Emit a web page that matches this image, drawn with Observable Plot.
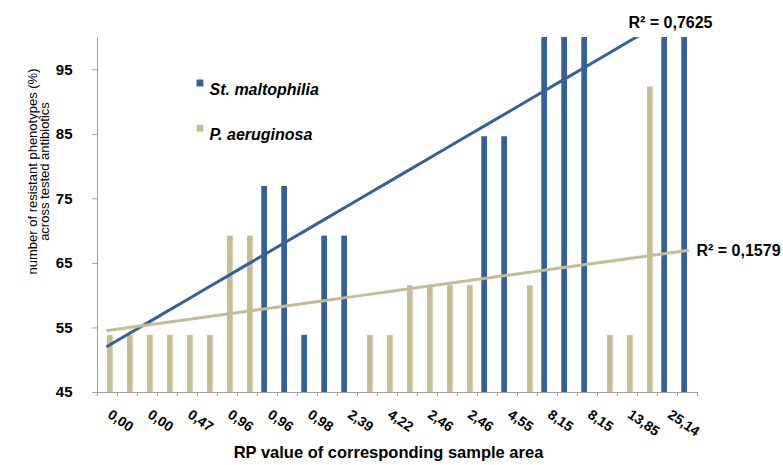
<!DOCTYPE html>
<html>
<head>
<meta charset="utf-8">
<script src="https://cdn.jsdelivr.net/npm/d3@7"></script>
<script src="https://cdn.jsdelivr.net/npm/@observablehq/plot@0.6"></script>
<style>
  body { margin: 0; background: #fff; }
</style>
</head>
<body>
<div id="chart"></div>
<script>
// ---- data (fractions of 13 tested antibiotics) ----
const seriesNames = ["St. maltophilia", "P. aeruginosa"];
const seriesColors = ["#376093", "#C4BD97"];
const stMaltophilia = [null, null, null, null, null, null, null, null,
  76.92, 76.92, 53.85, 69.23, 69.23,
  null, null, null, null, null, null,
  84.62, 84.62, null, 100, 100, 100, null, null, null, 100, 100];
const pAeruginosa = [53.85, 53.85, 53.85, 53.85, 53.85, 53.85, 69.23, 69.23,
  null, null, null, null, null,
  53.85, 53.85, 61.54, 61.54, 61.54, 61.54,
  null, null, 61.54, null, null, null, 53.85, 53.85, 92.31, null, null];
const tickLabels = ["0,00", "0,00", "0,47", "0,96", "0,96", "0,98", "2,39", "4,22",
  "2,46", "2,46", "4,55", "8,15", "8,15", "13,85", "25,14"];
const r2Labels = ["R² = 0,7625", "R² = 0,1579"];
const yTicks = [45, 55, 65, 75, 85, 95];
const yDomain = [45, 100];
const xTitle = "RP value of corresponding sample area";
const yTitle = "number of resistant phenotypes (%)\nacross tested antibiotics";

// ---- derived tables ----
const n = stMaltophilia.length;
const seriesValues = [stMaltophilia, pAeruginosa];
const bars = seriesValues.map((vals, s) =>
  vals.map((v, i) => ({i, v, s: seriesNames[s]})).filter(d => d.v != null));

// Linear trendline (least squares, x = 1..n like a spreadsheet trendline)
function trend(vals) {
  const pts = vals.map((v, i) => [i + 1, v]).filter(p => p[1] != null);
  const mx = d3.mean(pts, p => p[0]), my = d3.mean(pts, p => p[1]);
  const b = d3.sum(pts, p => (p[0] - mx) * (p[1] - my)) / d3.sum(pts, p => (p[0] - mx) ** 2);
  const a = my - b * mx;
  return vals.map((_, i) => ({i, y: a + b * (i + 1)}));
}
const trends = seriesValues.map(trend);

const axisGray = "#a0a0a0";
const barInsets = [[4.3, 10], [10, 4.3]];

const legendMarks = seriesNames.flatMap((name, s) => [
  Plot.dot([name], {frameAnchor: "top-left", dx: 102.5, dy: 45.5 + s * 45.2,
    symbol: "square", r: 3.9, fill: seriesColors[s], stroke: null}),
  Plot.text([name], {frameAnchor: "top-left", dx: 112, dy: 46 + s * 45.2,
    textAnchor: "start", fontSize: 16, fontWeight: "bold", fontStyle: "italic", fill: "#000"})
]);

const chart = Plot.plot({
  width: 783,
  height: 465,
  marginLeft: 97,
  marginRight: 86,
  marginTop: 37,
  marginBottom: 73,
  style: {fontFamily: "'Liberation Sans', Arial, sans-serif", fontSize: "14px", background: "#fff", color: "#000"},
  x: {type: "linear", domain: [0, n]},
  y: {domain: yDomain},
  marks: [
    // bars
    ...bars.map((data, s) => Plot.rect(data, {
      x1: "i", x2: d => d.i + 1, y1: yDomain[0], y2: "v",
      fill: seriesColors[s], insetLeft: barInsets[s][0], insetRight: barInsets[s][1]
    })),
    // axes
    Plot.ruleX([0], {stroke: axisGray, strokeWidth: 1}),
    Plot.ruleY([yDomain[0]], {stroke: axisGray, strokeWidth: 1}),
    Plot.axisX({ticks: d3.range(n + 1), tickFormat: () => "", tickSize: 4, stroke: axisGray, label: null}),
    Plot.axisY({ticks: yTicks, tickSize: 5, tickPadding: 20, stroke: axisGray, label: null,
      fontSize: 15, fontWeight: "bold", fill: "#000"}),
    // category tick labels (every second category)
    Plot.text(tickLabels, {x: (d, k) => 2 * k + 0.5, frameAnchor: "bottom", dx: 5, dy: 16,
      rotate: 35, textAnchor: "start", lineAnchor: "top", fontSize: 14, fontWeight: "bold", fill: "#000"}),
    // trend lines
    ...trends.map((data, s) => Plot.line(data, {
      x: d => d.i + 0.5, y: "y", stroke: seriesColors[s], strokeWidth: 3, clip: true
    })),
    // R² labels
    Plot.text([r2Labels[0]], {frameAnchor: "top-right", dx: 15, dy: -21, textAnchor: "end",
      fontSize: 16, fontWeight: "bold", fill: "#000"}),
    Plot.text([trends[1][n - 1]], {x: d => d.i + 0.5, y: "y", text: () => r2Labels[1], dx: 9,
      textAnchor: "start", fontSize: 16, fontWeight: "bold", fill: "#000"}),
    // legend
    ...legendMarks,
    // axis titles
    Plot.text([xTitle], {frameAnchor: "bottom", dx: -9, dy: 65, fontSize: 16.5, fontWeight: "bold", fill: "#000"}),
    Plot.text([yTitle], {frameAnchor: "left", textAnchor: "middle", lineAnchor: "middle",
      dx: -58, dy: -43.5, rotate: -90, fontSize: 13, lineHeight: 0.9, fill: "#000"})
  ]
});
document.getElementById("chart").appendChild(chart);
</script>
</body>
</html>
